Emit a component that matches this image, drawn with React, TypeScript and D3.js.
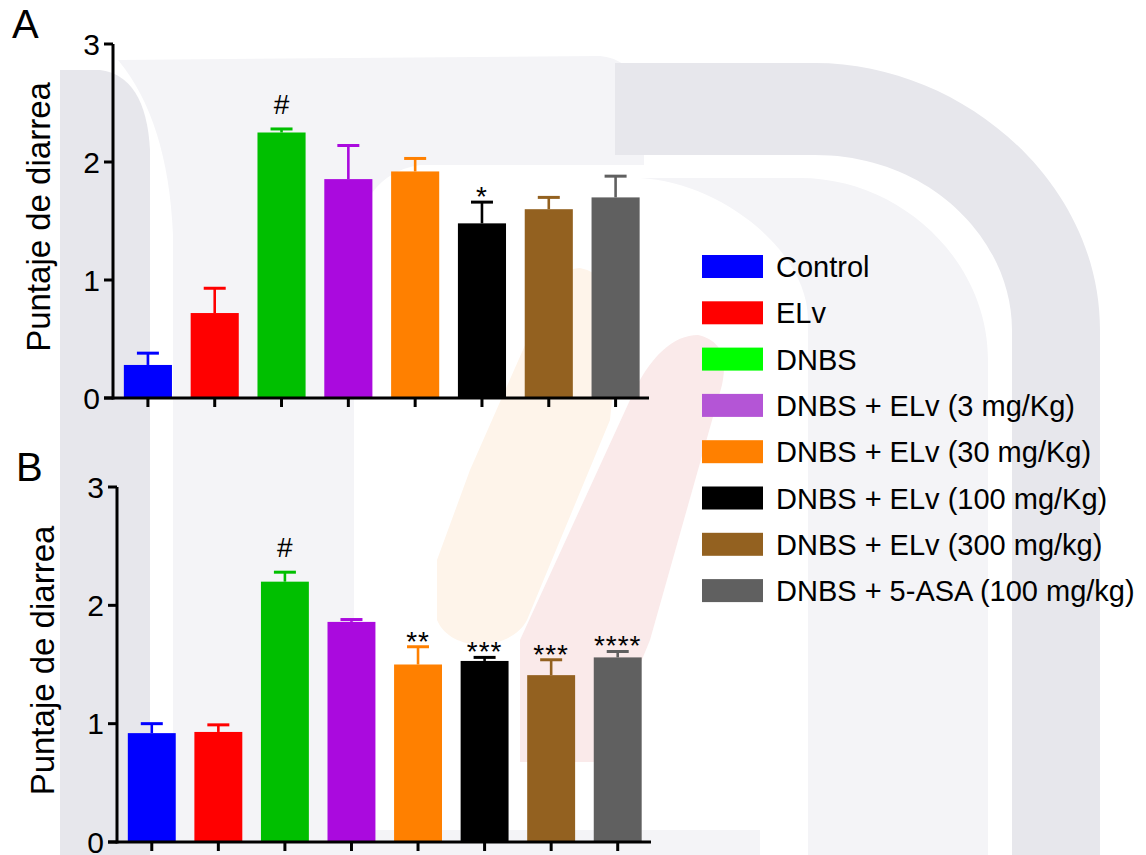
import React from "react";
import * as d3 from "d3";

// Treatment groups, shared by both panels and the legend
const groups = [
  "Control",
  "ELv",
  "DNBS",
  "DNBS + ELv (3 mg/Kg)",
  "DNBS + ELv (30 mg/Kg)",
  "DNBS + ELv (100 mg/Kg)",
  "DNBS + ELv (300 mg/kg)",
  "DNBS + 5-ASA (100 mg/kg)",
];

const barColors = ["#0000ff", "#ff0000", "#00bf00", "#aa0ade", "#ff8000", "#000000", "#936120", "#606060"];
const legendColors = ["#0000ff", "#ff0000", "#00ff00", "#b455d6", "#ff8000", "#000000", "#936120", "#606060"];

// Panel A: mean diarrhea score and SEM
const meanA = [0.28, 0.72, 2.25, 1.855, 1.92, 1.48, 1.6, 1.7];
const semA = [0.1, 0.21, 0.03, 0.285, 0.11, 0.18, 0.1, 0.18];
const marksA = ["", "", "#", "", "", "*", "", ""];

// Panel B: mean diarrhea score and SEM
const meanB = [0.92, 0.93, 2.2, 1.86, 1.5, 1.53, 1.41, 1.56];
const semB = [0.08, 0.06, 0.08, 0.02, 0.15, 0.03, 0.13, 0.05];
const marksB = ["", "", "#", "", "**", "***", "***", "****"];

const yTicks = [0, 1, 2, 3];
const yTitle = "Puntaje de diarrea";

const FONT = "'Liberation Sans', Arial, Helvetica, sans-serif";

type PanelProps = {
  letter: string;
  means: number[];
  sems: number[];
  marks: string[];
  x0: number;
  x1: number;
  yTop: number;
  yBottom: number;
};

function Panel({ letter, means, sems, marks, x0, x1, yTop, yBottom }: PanelProps) {
  const x = d3
    .scaleBand<string>()
    .domain(groups)
    .range([x0 + 1.5, x1])
    .paddingInner(0.28)
    .paddingOuter(0.14);
  const y = d3.scaleLinear().domain([0, 3]).range([yBottom, yTop]);
  const bw = x.bandwidth();
  const capW = 22;

  return (
    <g>
      <text x={x0 - 101} y={yTop - 6} fontSize={40} fontFamily={FONT} fill="#000">
        {letter}
      </text>
      <text
        transform={`translate(${x0 - 63},${(yTop + yBottom) / 2 - 4}) rotate(-90)`}
        textAnchor="middle"
        fontSize={33}
        fontFamily={FONT}
        fill="#000"
      >
        {yTitle}
      </text>

      {groups.map((g, i) => {
        const cx = (x(g) as number) + bw / 2;
        const top = y(means[i]);
        const errTop = y(means[i] + sems[i]);
        const c = barColors[i];
        return (
          <g key={g}>
            <rect x={x(g)} y={top} width={bw} height={yBottom - top} fill={c} />
            <line x1={cx} x2={cx} y1={top} y2={errTop} stroke={c} strokeWidth={2.6} />
            <line x1={cx - capW / 2} x2={cx + capW / 2} y1={errTop} y2={errTop} stroke={c} strokeWidth={3} />
            {marks[i] === "#" && (
              <text x={cx} y={errTop - 15} textAnchor="middle" fontSize={28} fontFamily={FONT} fill="#000">
                #
              </text>
            )}
            {marks[i] !== "" && marks[i] !== "#" && (
              <text
                x={cx}
                y={errTop + 4}
                textAnchor="middle"
                fontSize={28}
                letterSpacing={1}
                fontFamily={FONT}
                fill="#000"
              >
                {marks[i]}
              </text>
            )}
          </g>
        );
      })}

      {/* y axis */}
      <line x1={x0} x2={x0} y1={yTop} y2={yBottom + 1.5} stroke="#000" strokeWidth={3} />
      {yTicks.map((t) => (
        <g key={t}>
          <line x1={x0 - 9} x2={x0} y1={y(t)} y2={y(t)} stroke="#000" strokeWidth={3} />
          <text
            x={x0 - 13}
            y={y(t)}
            dy="0.36em"
            textAnchor="end"
            fontSize={30}
            fontFamily={FONT}
            fill="#000"
          >
            {t}
          </text>
        </g>
      ))}

      {/* x axis */}
      <line x1={x0 - 9} x2={x1} y1={yBottom} y2={yBottom} stroke="#000" strokeWidth={3} />
      {groups.map((g) => {
        const cx = (x(g) as number) + bw / 2;
        return <line key={g} x1={cx} x2={cx} y1={yBottom} y2={yBottom + 9} stroke="#000" strokeWidth={3} />;
      })}
    </g>
  );
}

function Backdrop() {
  // faint emblem behind the plots
  return (
    <g>
      <path d="M60,855 L60,70 L100,70 Q146,76 150,150 L150,855 Z" fill="#e7e7ec" />
      <path
        d="M118,60 L600,56 Q640,60 644,110 L644,165 L420,165 Q356,175 354,260 L354,855 L173,855 L173,235 Q168,120 118,60 Z"
        fill="#f4f4f7"
      />
      <path
        d="M615,63 L815,63 C960,63 1100,180 1100,330 L1100,855 L1012,855 L1012,330 C1012,240 930,155 815,155 L615,155 Z"
        fill="#e7e7ec"
      />
      <path
        d="M640,178 L800,178 C900,178 988,260 988,360 L988,855 L808,855 L808,320 C808,250 720,182 640,178 Z"
        fill="#f4f4f7"
      />
      <path
        d="M580,268 C600,272 622,292 620,322 L610,420 L527,620 C512,650 452,655 437,620 L437,560 L470,470 L545,300 C552,282 565,268 580,268 Z"
        fill="#fef4ea"
      />
      <path
        d="M698,335 C720,340 728,356 722,385 L650,640 L600,762 L520,762 L520,640 L630,400 C650,355 674,335 698,335 Z"
        fill="#faeaea"
      />
      <rect x={150} y={830} width={610} height={25} fill="#f4f4f7" />
    </g>
  );
}

function Legend() {
  const top0 = 255;
  const step = 46.3;
  return (
    <g>
      {groups.map((g, i) => {
        const ty = top0 + i * step;
        return (
          <g key={g}>
            <rect x={702} y={ty} width={61} height={23} fill={legendColors[i]} />
            <text x={776} y={ty + 22} fontSize={29} fontFamily={FONT} fill="#000">
              {g}
            </text>
          </g>
        );
      })}
    </g>
  );
}

export default function App() {
  return (
    <div style={{ position: "absolute", left: 0, top: 0 }}>
      <svg width={1146} height={855} viewBox="0 0 1146 855" style={{ display: "block", background: "#fff" }}>
        <Backdrop />
        <Panel letter="A" means={meanA} sems={semA} marks={marksA} x0={113} x1={649} yTop={44} yBottom={398} />
        <Panel letter="B" means={meanB} sems={semB} marks={marksB} x0={117} x1={651} yTop={487} yBottom={842} />
        <Legend />
      </svg>
    </div>
  );
}
